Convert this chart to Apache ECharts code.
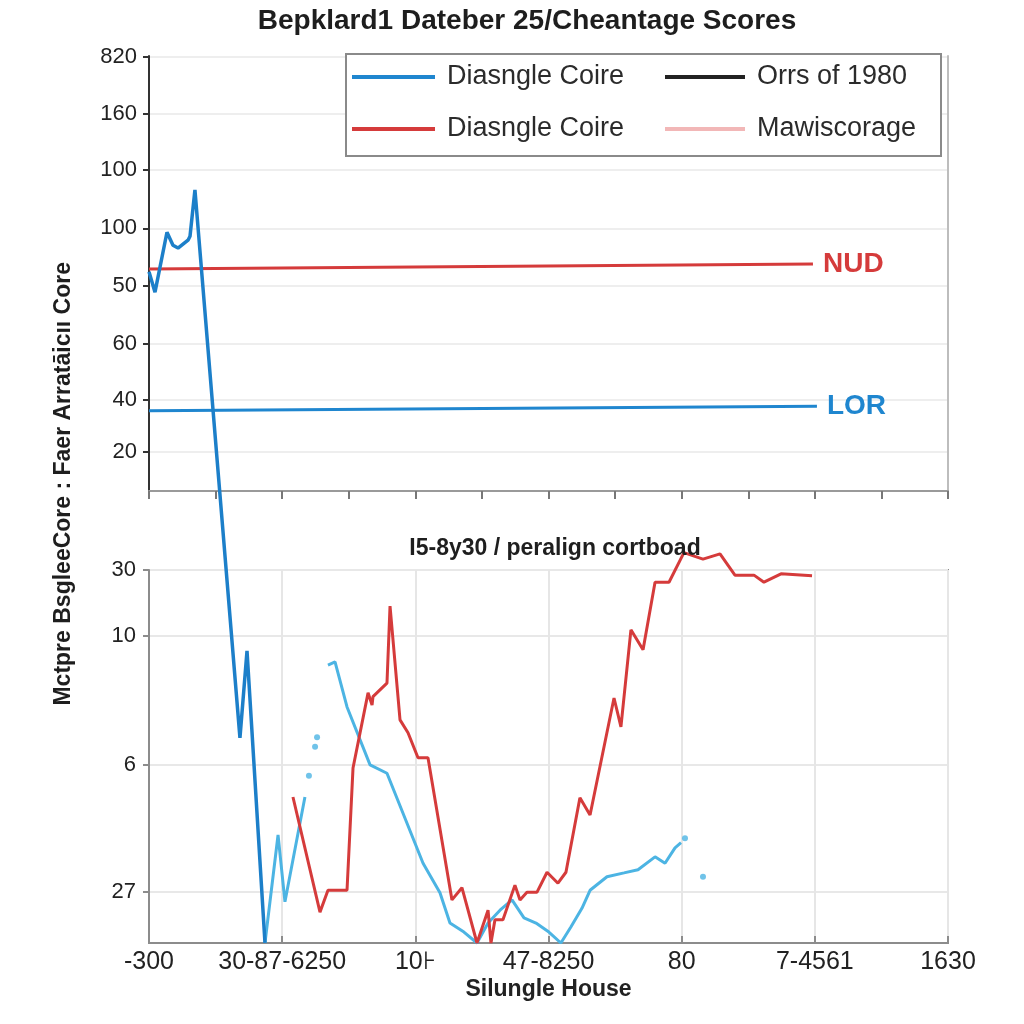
<!DOCTYPE html>
<html>
<head>
<meta charset="utf-8">
<script src="https://cdn.jsdelivr.net/npm/echarts@6/dist/echarts.min.js"></script>
<style>html,body{margin:0;padding:0;background:#fff}#c{width:1024px;height:1024px}</style>
</head>
<body>
<div id="c"></div>
<script>
// ---- texts ----
var chartTitle = 'Bepklard1 Dateber 25/Cheantage Scores';
var subTitle = 'I5-8y30 / peralign cortboad';
var yAxisTitle = 'Mctpre BsgleeCore : Faer Arratāicıı Core';
var xAxisTitle = 'Silungle House';
var legendNames = ['Diasngle Coire', 'Diasngle Coire ', 'Orrs of 1980', 'Mawiscorage'];

// ---- tick labels ----
var topTickPos = [0.69, 1.61, 2.60, 3.63, 4.65, 5.68, 6.67, 7.68];
var topTickLabels = ['20', '40', '60', '50', '100', '100', '160', '820'];
var bottomTickPos = [0.79, 2.77, 4.77, 5.8];
var bottomTickLabels = ['27', '6', '10', '30'];
var xTickLabels = ['-300', '30-87-6250', '10\u22a6', '47-8250', '80', '7-4561', '1630'];

// ---- series values [x, y] ----
var lorLine = [[0, 1.42], [5.016, 1.50]];
var nudLine = [[0, 3.93], [4.986, 4.02]];
var darkBlue = [[0, 3.88], [0.045, 3.52], [0.135, 4.58], [0.18, 4.35], [0.218, 4.30], [0.293, 4.44],
  [0.308, 4.51], [0.345, 5.33], [0.683, -4.37], [0.736, -2.83], [0.871, -8.00]];
var lightBlue = [[0.871, 0.00], [0.969, 1.68], [1.021, 0.64], [1.171, 2.27], null,
  [1.344, 4.32], [1.397, 4.37], [1.487, 3.67], [1.660, 2.77], [1.787, 2.64], [2.058, 1.24],
  [2.185, 0.78], [2.260, 0.31], [2.365, 0.17], [2.463, 0.00], [2.546, 0.31], [2.636, 0.51],
  [2.726, 0.67], [2.816, 0.39], [2.906, 0.31], [3.003, 0.17], [3.093, 0.00], [3.168, 0.25],
  [3.251, 0.54], [3.312, 0.82], [3.439, 1.03], [3.567, 1.09], [3.672, 1.14], [3.800, 1.34],
  [3.875, 1.24], [3.950, 1.48], [3.995, 1.56]];
var lightBlueDots = [[1.201, 2.60], [1.247, 3.05], [1.262, 3.20], [4.025, 1.63], [4.160, 1.03]];
var redLine = [[1.081, 2.27], [1.284, 0.48], [1.344, 0.82], [1.487, 0.82], [1.532, 2.72],
  [1.645, 3.89], [1.675, 3.70], [1.682, 3.83], [1.787, 4.04], [1.810, 5.24], [1.885, 3.47],
  [1.945, 3.27], [2.020, 2.88], [2.095, 2.88], [2.275, 0.67], [2.350, 0.86], [2.463, 0.00],
  [2.546, 0.51], [2.568, 0.00], [2.598, 0.36], [2.658, 0.36], [2.748, 0.90], [2.786, 0.67],
  [2.838, 0.79], [2.914, 0.79], [2.989, 1.10], [3.071, 0.93], [3.131, 1.10], [3.236, 2.26],
  [3.312, 1.99], [3.492, 3.81], [3.544, 3.36], [3.619, 4.87], [3.710, 4.56], [3.800, 5.61],
  [3.905, 5.61], [4.017, 6.07], [4.160, 5.97], [4.288, 6.05], [4.400, 5.72], [4.543, 5.72],
  [4.618, 5.61], [4.746, 5.74], [4.979, 5.71]];

var FONT = "'Liberation Sans', Arial, sans-serif";
var chart = echarts.init(document.getElementById('c'), null, {renderer: 'canvas'});

function lookup(pos, labels) {
  return function (v) {
    for (var i = 0; i < pos.length; i++) { if (Math.abs(pos[i] - v) < 1e-6) return labels[i]; }
    return '';
  };
}

var legendCommon = {
  orient: 'vertical', top: 56, itemGap: 20, icon: 'rect', itemHeight: 4,
  selectedMode: false, z: 6,
  textStyle: {fontFamily: FONT, fontSize: 27, color: '#2b2b2b', lineHeight: 32, padding: [0, 0, 0, 7]}
};

chart.setOption({
  backgroundColor: '#ffffff',
  animation: false,
  title: [
    {text: chartTitle, left: 522, textAlign: 'center', top: 2,
     textStyle: {fontFamily: FONT, fontSize: 28, fontWeight: 'bold', color: '#1e1e1e'}},
    {text: subTitle, left: 550, textAlign: 'center', top: 532,
     textStyle: {fontFamily: FONT, fontSize: 23, fontWeight: 'bold', color: '#1e1e1e'}}
  ],
  legend: [
    Object.assign({left: 347, itemWidth: 83, data: [legendNames[0], legendNames[1]]}, legendCommon),
    Object.assign({left: 660, itemWidth: 80, data: [legendNames[2], legendNames[3]]}, legendCommon)
  ],
  graphic: [
    {type: 'rect', left: 345, top: 53, z: 3, shape: {width: 595, height: 102},
     style: {fill: '#ffffff', stroke: '#8a8a8a', lineWidth: 2}},
    {type: 'text', left: 52, top: 262, rotation: Math.PI / 2, z: 10,
     style: {text: yAxisTitle, font: 'bold 23px ' + FONT, fill: '#1e1e1e'}}
  ],
  grid: [
    {left: 149, top: 56, width: 799, height: 435},
    {left: 149, top: 570, width: 799, height: 373, show: true, borderColor: '#8c8c8c', borderWidth: 2}
  ],
  xAxis: [
    {gridIndex: 0, type: 'value', min: 0, max: 6, interval: 0.5,
     axisLine: {lineStyle: {color: '#9a9a9a', width: 2}},
     axisTick: {length: 8, lineStyle: {color: '#777', width: 2}},
     axisLabel: {show: false}, splitLine: {show: false}},
    {gridIndex: 1, type: 'value', min: 0, max: 6, interval: 1,
     axisLine: {lineStyle: {color: '#8c8c8c', width: 2}},
     axisTick: {inside: true, length: 7, lineStyle: {color: '#8c8c8c', width: 2}},
     axisLabel: {fontFamily: FONT, fontSize: 25, color: '#222', margin: 7,
       formatter: function (v) { return xTickLabels[Math.round(v)]; }},
     splitLine: {show: true, lineStyle: {color: '#e6e6e6', width: 2}},
     name: xAxisTitle, nameLocation: 'middle', nameGap: 35,
     nameTextStyle: {fontFamily: FONT, fontSize: 23, fontWeight: 'bold', color: '#222'}}
  ],
  yAxis: [
    {gridIndex: 0, type: 'value', min: 0, max: 7.7,
     axisLine: {show: true, lineStyle: {color: '#333', width: 2}},
     axisTick: {show: true, length: 6, customValues: topTickPos, lineStyle: {color: '#333', width: 2}},
     axisLabel: {customValues: topTickPos, formatter: lookup(topTickPos, topTickLabels),
       fontFamily: FONT, fontSize: 22, color: '#222', margin: 12},
     splitLine: {show: true, lineStyle: {color: '#eeeeee', width: 2}}},
    {gridIndex: 0, type: 'value', min: 0, max: 7.7, position: 'right',
     axisLine: {show: true, lineStyle: {color: '#bdbdbd', width: 2}},
     axisTick: {show: false}, axisLabel: {show: false}, splitLine: {show: false}},
    {gridIndex: 1, type: 'value', min: 0, max: 5.8,
     axisLine: {show: true, lineStyle: {color: '#8c8c8c', width: 2}},
     axisTick: {show: true, length: 6, customValues: bottomTickPos, lineStyle: {color: '#8c8c8c', width: 2}},
     axisLabel: {customValues: bottomTickPos, formatter: lookup(bottomTickPos, bottomTickLabels),
       fontFamily: FONT, fontSize: 22, color: '#222', margin: 13},
     splitLine: {show: true, lineStyle: {color: '#e8e8e8', width: 2}}}
  ],
  series: [
    {name: legendNames[0], type: 'line', xAxisIndex: 0, yAxisIndex: 0, data: lorLine,
     symbol: 'none', color: '#1f86cf', lineStyle: {width: 3},
     endLabel: {show: true, formatter: 'LOR', distance: 10, color: '#1f86cf',
       fontFamily: FONT, fontSize: 28, fontWeight: 'bold'}},
    {name: legendNames[1], type: 'line', xAxisIndex: 0, yAxisIndex: 0, data: nudLine,
     symbol: 'none', color: '#d53b3b', lineStyle: {width: 3},
     endLabel: {show: true, formatter: 'NUD', distance: 10, color: '#d53b3b',
       fontFamily: FONT, fontSize: 28, fontWeight: 'bold'}},
    {name: legendNames[2], type: 'line', xAxisIndex: 0, yAxisIndex: 0, data: [], color: '#222222'},
    {name: legendNames[3], type: 'line', xAxisIndex: 0, yAxisIndex: 0, data: [], color: '#f2b7b7'},
    {type: 'line', xAxisIndex: 0, yAxisIndex: 0, data: darkBlue, clip: false, z: 5,
     symbol: 'none', color: '#1c7fc9', lineStyle: {width: 3.5}},
    {type: 'line', xAxisIndex: 1, yAxisIndex: 2, data: lightBlue, clip: false, connectNulls: false,
     symbol: 'none', color: '#4cb4e3', lineStyle: {width: 3}},
    {type: 'scatter', xAxisIndex: 1, yAxisIndex: 2, data: lightBlueDots, symbolSize: 6,
     color: '#4cb4e3'},
    {type: 'line', xAxisIndex: 1, yAxisIndex: 2, data: redLine, clip: false,
     symbol: 'none', color: '#d53b3b', lineStyle: {width: 3}}
  ]
});
</script>
</body>
</html>
